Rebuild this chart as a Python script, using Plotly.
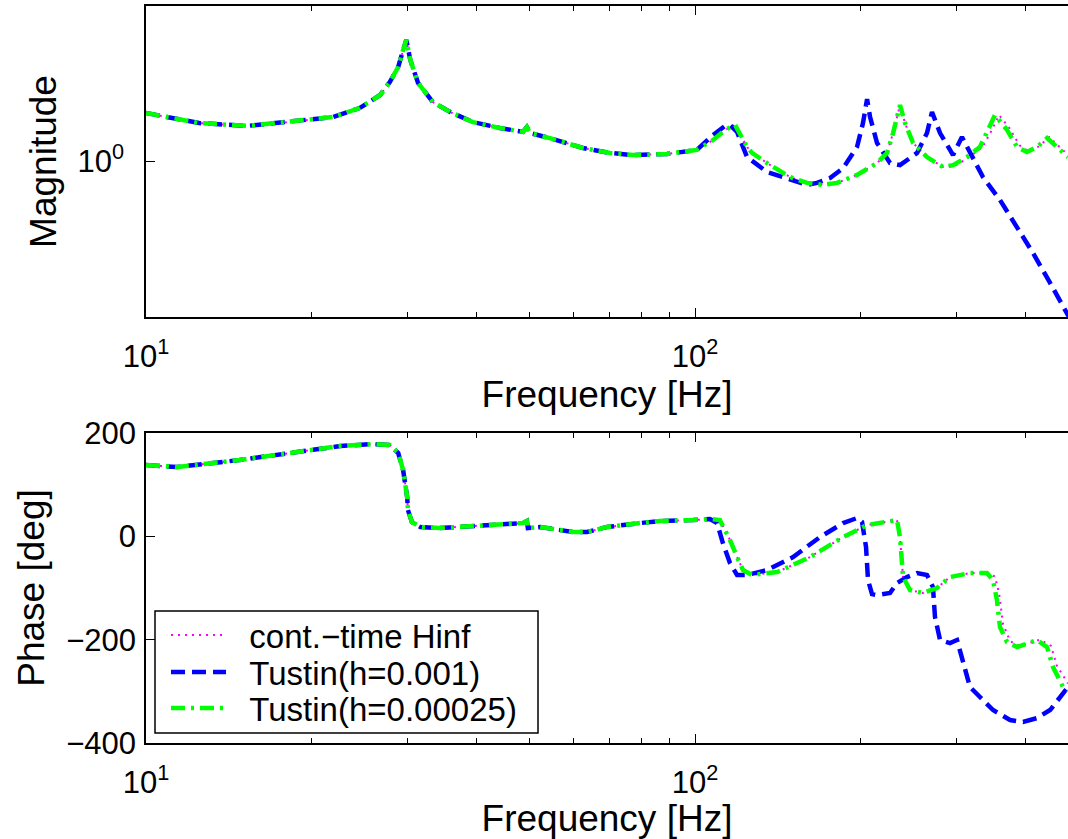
import plotly.graph_objects as go

# ---------------- data ----------------
# shared low-frequency part (all three responses coincide)
COMMON_F = [10, 11.4, 12.5, 15.3, 19.1, 21.9, 24.5, 26.7, 27.8, 28.8, 29.4, 29.8, 30.3, 31.3,
            33.3, 35.8, 39.4, 44.1, 48.6, 49.4, 50.1, 54.4, 62.5, 70.0, 77.1, 88.9, 100.8]
COMMON_MAG = [1.241, 1.208, 1.187, 1.172, 1.198, 1.219, 1.269, 1.345, 1.425, 1.524, 1.644, 1.719,
              1.572, 1.419, 1.304, 1.247, 1.192, 1.161, 1.141, 1.166, 1.135, 1.110, 1.062, 1.039,
              1.029, 1.034, 1.053]
COMMON_PF = [10, 11.4, 14.8, 18.3, 22.6, 25.9, 27.8, 28.8, 29.4, 29.9, 30.0, 30.5, 31.6, 34.3,
             39.4, 45.5, 48.6, 49.4, 49.6, 52.2, 60.0, 63.6, 69.1, 79.4, 86.4, 99.2, 106.5]
COMMON_PH = [138.0, 134.1, 147.7, 161.2, 174.8, 178.6, 176.7, 161.2, 128.3, 76.1, 50.9, 27.7,
             18.0, 16.1, 19.9, 23.8, 25.7, 29.6, 16.1, 18.0, 8.3, 8.3, 18.0, 25.7, 29.6, 31.5, 33.5]

# Tustin(h=0.001) high-frequency part
BLUE_F_HI = [107.8, 113.4, 115.8, 119.3, 124.4, 135.3, 148.9, 160.0, 166.8, 176.2, 186.1, 197.3,
             202.3, 205.8, 208.4, 214.6, 226.6, 236.3, 253.8, 264.6, 270.2, 279.5, 291.4, 295.1,
             306.4, 316.9, 334.6, 359.4, 386.0, 412.8, 443.4, 476.0, 480.0]
BLUE_MAG_HI = [1.125, 1.172, 1.177, 1.141, 1.020, 0.954, 0.921, 0.901, 0.909, 0.929, 0.971, 1.067,
               1.187, 1.321, 1.219, 1.086, 0.993, 0.984, 1.039, 1.135, 1.247, 1.135, 1.053, 1.029,
               1.115, 1.039, 0.933, 0.842, 0.747, 0.665, 0.582, 0.509, 0.500]
BLUE_PF_HI = [109.7, 112.4, 115.8, 119.3, 124.4, 135.3, 150.9, 168.9, 186.1, 197.3, 201.5, 204.9,
              206.6, 210.1, 214.6, 226.6, 233.3, 243.3, 253.8, 264.6, 271.3, 273.6, 279.5, 291.4,
              300.1, 307.7, 316.9, 330.4, 349.0, 374.8, 395.8, 419.8, 443.4, 478.0]
BLUE_PH_HI = [25.7, -13.0, -51.7, -74.9, -74.9, -65.2, -40.1, -1.4, 25.7, 35.4, 27.7, -20.7,
              -84.6, -111.7, -113.6, -109.7, -90.4, -78.8, -71.0, -74.9, -98.1, -156.2, -200.7,
              -206.5, -200.7, -245.2, -291.7, -311.0, -336.2, -355.6, -359.4, -351.7, -336.2, -291.7]

# Tustin(h=0.00025) high-frequency part
GREEN_F_HI = [107.8, 113.4, 118.3, 124.4, 127.0, 135.3, 148.9, 160.0, 171.1, 181.4, 197.3, 214.6,
              223.8, 229.5, 236.3, 241.3, 249.6, 264.6, 282.9, 295.1, 312.9, 330.4, 340.3, 351.9,
              370.1, 386.0, 402.5, 419.8, 437.8, 456.5, 478.0]
GREEN_MAG_HI = [1.100, 1.151, 1.177, 1.067, 1.039, 0.993, 0.933, 0.909, 0.901, 0.909, 0.942, 0.993,
                1.039, 1.135, 1.286, 1.187, 1.086, 1.020, 0.976, 0.984, 1.020, 1.067, 1.135, 1.230,
                1.151, 1.067, 1.043, 1.067, 1.110, 1.067, 1.020]
GREEN_PF_HI = [111.0, 115.8, 119.3, 122.3, 127.0, 141.1, 162.0, 186.1, 205.8, 220.0, 233.3, 236.3,
               238.2, 239.3, 246.4, 260.2, 275.9, 291.4, 316.9, 340.3, 349.0, 354.8, 359.4, 370.1,
               386.0, 419.8, 437.8, 448.9, 468.1, 478.0]
GREEN_PH_HI = [31.5, -7.2, -40.1, -65.2, -74.9, -69.1, -40.1, -1.4, 21.9, 27.7, 31.5, -1.4,
               -51.7, -78.8, -103.9, -109.7, -100.1, -78.8, -71.0, -71.0, -84.6, -123.3, -175.5,
               -204.6, -214.3, -200.7, -214.3, -253.0, -291.7, -297.5]

# continuous-time Hinf high-frequency part
CT_F_HI = [107.8, 113.4, 118.3, 124.4, 127.0, 135.3, 148.9, 160.0, 171.1, 181.4, 197.3, 214.6,
           223.8, 229.5, 236.3, 241.3, 249.6, 264.6, 282.9, 298.0, 316.0, 334.0, 345.0, 358.0,
           374.0, 390.0, 406.0, 423.0, 442.0, 460.0, 478.0]
CT_MAG_HI = [1.100, 1.151, 1.177, 1.067, 1.039, 0.993, 0.933, 0.909, 0.901, 0.909, 0.942, 0.993,
             1.039, 1.135, 1.286, 1.187, 1.086, 1.020, 0.976, 0.982, 1.020, 1.067, 1.135, 1.230,
             1.160, 1.075, 1.045, 1.070, 1.115, 1.070, 1.030]
CT_PF_HI = [111.0, 115.8, 119.3, 122.3, 127.0, 141.1, 162.0, 186.1, 205.8, 220.0, 233.3, 236.3,
            238.2, 239.3, 246.4, 260.2, 275.9, 291.4, 316.9, 340.3, 352.0, 358.0, 364.0, 375.0,
            390.0, 425.0, 445.0, 456.0, 478.0]
CT_PH_HI = [31.5, -7.2, -40.1, -65.2, -74.9, -69.1, -40.1, -1.4, 21.9, 27.7, 31.5, -1.4,
            -51.7, -78.8, -103.9, -109.7, -100.1, -78.8, -71.0, -71.0, -78.0, -110.0, -170.0,
            -203.0, -212.0, -200.0, -212.0, -250.0, -285.0]

SERIES_NAMES = ["cont.\u2212time Hinf", "Tustin(h=0.001)", "Tustin(h=0.00025)"]
X_TICK_VALS = [10, 100]
X_TICK_TEXT = ["10<sup>1</sup>", "10<sup>2</sup>"]
X_MINOR_VALS = [20, 30, 40, 50, 60, 70, 80, 90, 200, 300, 400]
MAG_TICK_VALS = [1]
MAG_TICK_TEXT = ["10<sup>0</sup>"]
PH_TICK_VALS = [-400, -200, 0, 200]

# ---------------- figure ----------------
FONT = "Liberation Sans, Arial, Helvetica, sans-serif"
W, H = 1068, 839
ML, MR, MT, MB = 146, 0, 6, 96
PW, PH = W - ML - MR, H - MT - MB


def px_x(p):
    return (p - ML) / PW


def px_y(p):
    return (H - MB - p) / PH


styles = [
    dict(color="#FF00FF", width=2, dash="2px,5px"),
    dict(color="#0000FF", width=4.5, dash="14px,7px"),
    dict(color="#00FF00", width=4.5, dash="14px,6px,3px,6px"),
]
mag_sets = [
    (COMMON_F + CT_F_HI, COMMON_MAG + CT_MAG_HI),
    (COMMON_F + BLUE_F_HI, COMMON_MAG + BLUE_MAG_HI),
    (COMMON_F + GREEN_F_HI, COMMON_MAG + GREEN_MAG_HI),
]
ph_sets = [
    (COMMON_PF + CT_PF_HI, COMMON_PH + CT_PH_HI),
    (COMMON_PF + BLUE_PF_HI, COMMON_PH + BLUE_PH_HI),
    (COMMON_PF + GREEN_PF_HI, COMMON_PH + GREEN_PH_HI),
]
legend_ids = ["legend", "legend2", "legend3"]

fig = go.Figure()
for i in range(3):
    f, m = mag_sets[i]
    fig.add_trace(go.Scatter(x=f, y=m, mode="lines", line=styles[i], showlegend=False,
                             xaxis="x", yaxis="y", name=SERIES_NAMES[i]))
for i in range(3):
    f, p = ph_sets[i]
    fig.add_trace(go.Scatter(x=f, y=p, mode="lines", line=styles[i], showlegend=True,
                             legend=legend_ids[i], xaxis="x2", yaxis="y2",
                             name="\u00a0\u00a0" + SERIES_NAMES[i]))

axis_common = dict(showline=True, linecolor="black", linewidth=1.5, showgrid=False,
                   zeroline=False, ticks="inside", tickcolor="black", tickwidth=1.2,
                   tickfont=dict(family=FONT, size=31, color="black"))
TITLE_FONT = dict(family=FONT, size=37, color="black")
xcommon = dict(axis_common, type="log", range=[1, 1 + PW / 549.0], tickmode="array",
               tickvals=X_TICK_VALS, ticktext=X_TICK_TEXT, ticklen=9, mirror="ticks",
               minor=dict(tickvals=X_MINOR_VALS, ticks="inside", ticklen=5,
                          tickcolor="black", tickwidth=1.2),
               ticklabelstandoff=11,
               title=dict(text="Frequency [Hz]", font=TITLE_FONT, standoff=0))

top_dom = [px_y(317), 1.0]
bot_dom = [0.0, px_y(433)]

fig.update_layout(
    width=W, height=H, margin=dict(l=ML, r=MR, t=MT, b=MB, autoexpand=False),
    paper_bgcolor="white", plot_bgcolor="white",
    xaxis=dict(xcommon, anchor="y"),
    yaxis=dict(axis_common, domain=top_dom, type="log", range=[-0.30103, 0.30103],
               tickmode="array", tickvals=MAG_TICK_VALS, ticktext=MAG_TICK_TEXT, ticklen=9,
               mirror=False, ticklabelstandoff=14, anchor="x",
               title=dict(text="Magnitude", font=TITLE_FONT, standoff=10)),
    xaxis2=dict(xcommon, anchor="y2"),
    yaxis2=dict(axis_common, domain=bot_dom, range=[-400, 200], tickmode="array",
                tickvals=PH_TICK_VALS, ticklen=9, mirror=False, ticklabelstandoff=2, anchor="x2",
                title=dict(text="Phase [deg]", font=TITLE_FONT, standoff=10)),
    shapes=[dict(type="rect", xref="paper", yref="paper",
                 x0=px_x(155), x1=px_x(538), y0=px_y(733), y1=px_y(611),
                 line=dict(color="black", width=1.5), fillcolor="white", layer="above")],
)

row_y = [635, 672, 708]
for lid, ry in zip(legend_ids, row_y):
    fig.update_layout({lid: dict(x=px_x(166), y=px_y(ry), xanchor="left", yanchor="middle",
                                 bgcolor="rgba(0,0,0,0)", borderwidth=0, itemwidth=55,
                                 font=dict(family=FONT, size=33, color="black"))})

fig.write_html("out.html")
